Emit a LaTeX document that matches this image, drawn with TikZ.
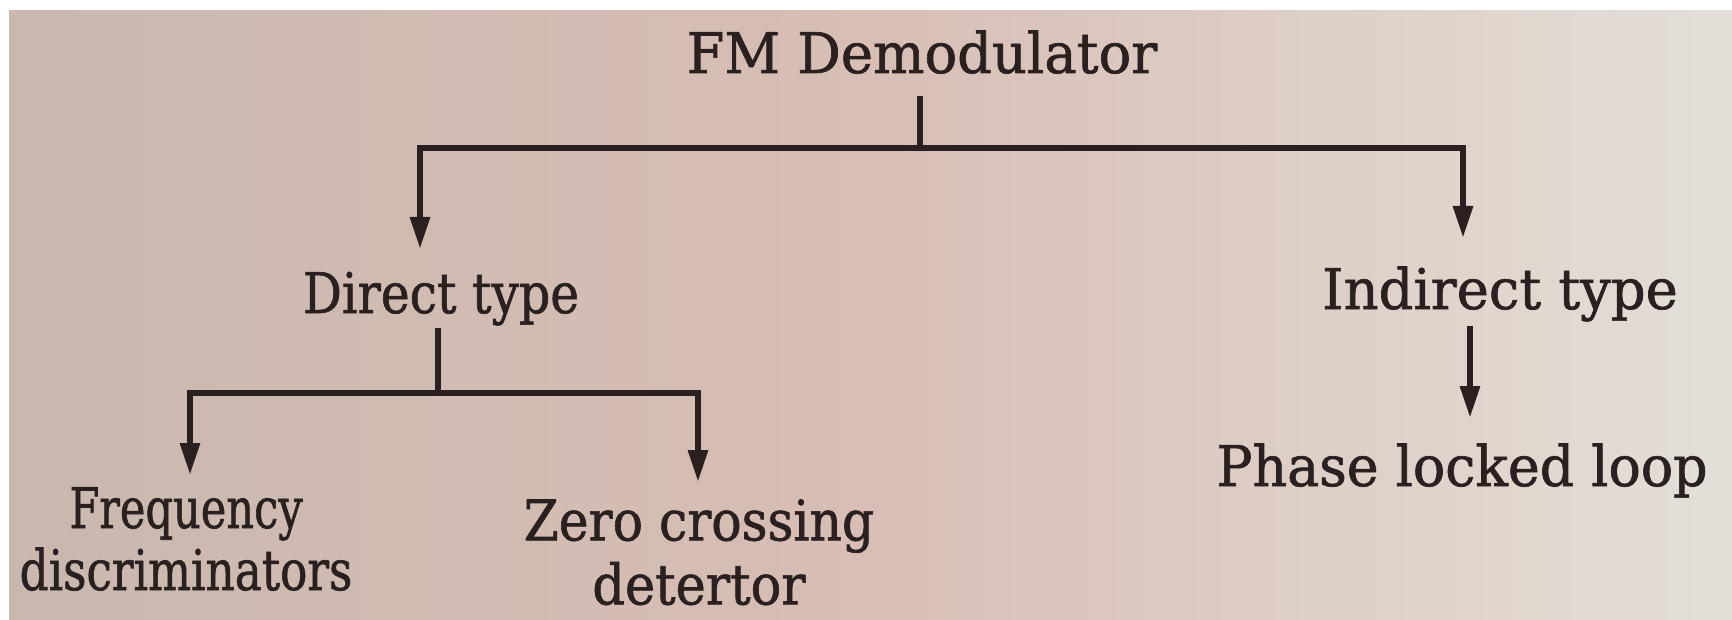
\documentclass[tikz,border=0pt]{standalone}
\usepackage{fontspec}
\usepackage{graphicx}
\setmainfont[FakeBold=1.2]{DejaVu Serif}
\usetikzlibrary{arrows.meta}
\definecolor{bgL}{HTML}{C9B8AE}
\definecolor{bgM}{HTML}{D8BEB5}
\definecolor{bgR}{HTML}{E3DFD8}
\definecolor{ink}{HTML}{2A2020}
\newcommand{\sqz}[2]{\scalebox{#1}[1]{#2}}
\tikzset{
  lbl/.style={inner sep=0pt, text=ink, font=\fontsize{56}{62}\selectfont, align=center},
  bar/.style={draw=ink, line width=6pt, line cap=butt, line join=miter},
  arr/.style={bar, -{Triangle[length=32pt,width=19pt]}},
}
\begin{document}
\begin{tikzpicture}[x=1pt,y=-1pt]
\useasboundingbox (0,0) rectangle (1732,620);
\shade[left color=bgL, right color=bgR, middle color=bgM] (0,0) rectangle (1732,620);
\fill[white] (0,0) rectangle (1732,10);
\fill[white] (0,0) rectangle (9,620);

% nodes
\node[lbl, anchor=base] (fm) at (922,73) {\sqz{0.97}{FM Demodulator}};
\node[lbl, anchor=base] (direct) at (441,313) {\sqz{0.87}{Direct type}};
\node[lbl, anchor=base] (indirect) at (1500,309) {\sqz{0.97}{Indirect type}};
\node[lbl, anchor=base] (pll) at (1462,486) {\sqz{0.96}{Phase locked loop}};
\node[lbl, anchor=north] (freq) at (186,487) {\sqz{0.77}{Frequency}\\\sqz{0.81}{discriminators}};
\node[lbl, anchor=north] (zero) at (699,499) {\sqz{0.90}{Zero crossing}\\[2pt]\sqz{0.91}{detertor}};

% junction coordinates
\coordinate (top) at (920,148);
\coordinate (tl) at (420,148);
\coordinate (tr) at (1463,148);
\coordinate (dtip) at (420,249);
\coordinate (itip) at (1463,238);
\coordinate (mid) at (438,393);
\coordinate (bl) at (190,393);
\coordinate (br) at (698,393);
\coordinate (ftip) at (190,475);
\coordinate (ztip) at (698,482);
\coordinate (pstart) at (1470,322);
\coordinate (ptip) at (1470,418);

% connectors
\draw[bar] ([yshift=-22pt]fm.south -| top) -- (top);
\draw[bar] (tl) -- (tr);
\draw[arr] ([yshift=3pt]tl) -- (dtip);
\draw[arr] ([yshift=3pt]tr) -- (itip);
\draw[bar] ([yshift=-2pt]direct.south -| mid) -- (mid);
\draw[bar] (bl) -- (br);
\draw[arr] ([yshift=3pt]bl) -- (ftip);
\draw[arr] ([yshift=3pt]br) -- (ztip);
\draw[arr] ([yshift=-4pt]indirect.south -| pstart) -- (ptip);
\end{tikzpicture}
\end{document}
